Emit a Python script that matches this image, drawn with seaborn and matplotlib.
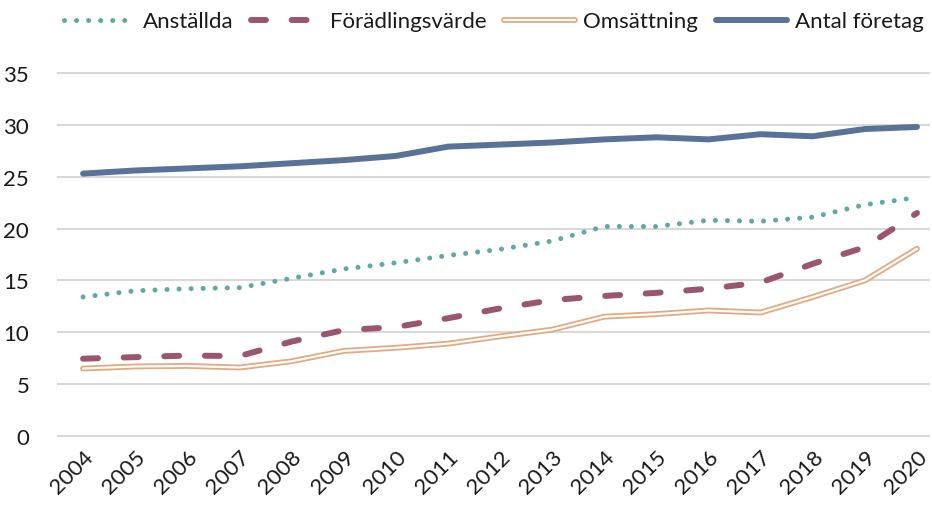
import seaborn as sns
import matplotlib.pyplot as plt
import matplotlib.patheffects as pe
import pandas as pd

# Data
years = list(range(2004, 2021))
anstallda = [13.4, 14.0, 14.2, 14.3, 15.2, 16.1, 16.7, 17.4, 18.0, 18.8, 20.2, 20.2, 20.8, 20.7, 21.1, 22.3, 23.0]
foradling = [7.45, 7.6, 7.75, 7.7, 9.1, 10.2, 10.5, 11.35, 12.3, 13.1, 13.5, 13.8, 14.2, 14.8, 16.6, 18.2, 21.5]
omsattning = [6.5, 6.7, 6.75, 6.6, 7.2, 8.2, 8.5, 8.9, 9.6, 10.25, 11.5, 11.75, 12.1, 11.9, 13.4, 15.0, 18.05]
antal = [25.3, 25.6, 25.8, 26.0, 26.3, 26.6, 27.0, 27.9, 28.1, 28.3, 28.6, 28.8, 28.6, 29.1, 28.9, 29.6, 29.8]

teal = "#5fa8a3"
maroon = "#9b5570"
tan = "#e3aa80"
blue = "#5a7299"
txt = "#1a1a1a"

df = pd.DataFrame({"year": years, "Anställda": anstallda, "Förädlingsvärde": foradling,
                   "Omsättning": omsattning, "Antal företag": antal})

sns.set_style("white")
plt.rcParams["font.family"] = ["Lato", "DejaVu Sans"]

fig = plt.figure(figsize=(9.32, 5.06), dpi=100)
ax = fig.add_axes([57 / 932, 0.1364 - 0.004, 873 / 932, 0.7174 + 0.008])

sns.lineplot(data=df, x="year", y="Anställda", ax=ax, color=teal, lw=3.6,
             linestyle=(0, (0.01, 2.4)), dash_capstyle="round", label="Anställda")
sns.lineplot(data=df, x="year", y="Förädlingsvärde", ax=ax, color=maroon, lw=4.3,
             linestyle=(0, (2.5, 4.3)), dash_capstyle="round", label="Förädlingsvärde")
sns.lineplot(data=df, x="year", y="Omsättning", ax=ax, color="white", lw=1.6,
             path_effects=[pe.Stroke(linewidth=4.2, foreground=tan), pe.Normal()],
             label="Omsättning")
sns.lineplot(data=df, x="year", y="Antal företag", ax=ax, color=blue, lw=4.3,
             solid_capstyle="round", label="Antal företag")

ax.set_xlim(2003.5, 2020.25)
ax.set_ylim(-0.2, 35.2)
ax.set_yticks(range(0, 36, 5))
ax.set_xticks(years)
ax.set_xticklabels([str(y) for y in years], rotation=45, ha="right",
                   rotation_mode="anchor", fontsize=16, color=txt)
for t in ax.get_yticklabels():
    t.set_fontsize(16)
    t.set_color(txt)
ax.tick_params(axis="y", pad=20, length=0)
ax.tick_params(axis="x", pad=6, length=0)
ax.grid(axis="y", color="#d9d9d9", lw=1.5)
ax.grid(axis="x", visible=False)
ax.set_xlabel("")
ax.set_ylabel("")
for s in ax.spines.values():
    s.set_visible(False)

leg = ax.legend(loc="center", bbox_to_anchor=(0.5, 1.135), ncol=4, frameon=False,
                fontsize=16, handlelength=3.2, handletextpad=0.35, columnspacing=0.8,
                borderaxespad=0)
for t in leg.get_texts():
    t.set_color(txt)

fig.savefig("out.png", dpi=100)
